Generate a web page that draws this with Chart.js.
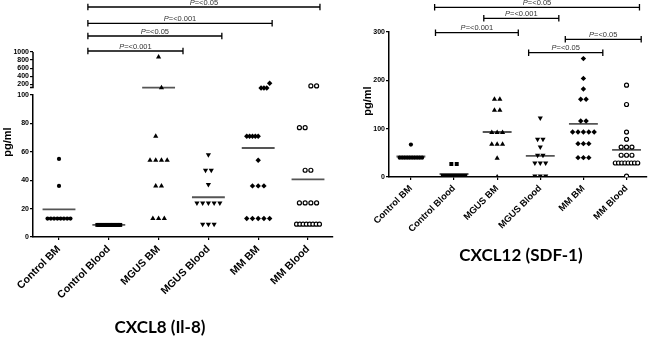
<!DOCTYPE html>
<html>
<head>
<meta charset="utf-8">
<script src="https://cdn.jsdelivr.net/npm/chart.js@4.4.0/dist/chart.umd.min.js"></script>
<style>
  html, body { margin: 0; padding: 0; background: #fff; }
  #wrap { position: relative; width: 650px; height: 338px; overflow: hidden; }
  canvas { position: absolute; top: 0; }
  #c1 { left: 0; }
  #c2 { left: 330px; }
  .panel-title { position: absolute; font: bold 17px Lato, "Liberation Sans", sans-serif; line-height: 20px;
                 color: #000; transform: translateX(-50%); white-space: nowrap; }
</style>
</head>
<body>
<div id="wrap">
  <canvas id="c1" width="340" height="338"></canvas>
  <canvas id="c2" width="320" height="338"></canvas>
  <div class="panel-title" style="left:160px; top:317px">CXCL8 (Il-8)</div>
  <div class="panel-title" style="left:521px; top:245px">CXCL12 (SDF-1)</div>
</div>
<script>
const categories = ['Control BM', 'Control Blood', 'MGUS BM', 'MGUS Blood', 'MM BM', 'MM Blood'];

// CXCL8 (Il-8), pg/ml
const il8ControlBM    = [55, 36, 13, 13, 13, 13, 13, 13, 13, 13];
const il8ControlBlood = [8.5, 8.5, 8.5, 8.5, 8.5, 8.5, 8.5, 8.5, 8.5, 8.5, 8.5, 8.5, 8.5, 8.5];
const il8MgusBM       = [875, 115, 71, 54, 54, 54, 54, 36, 36, 13, 13, 13];
const il8MgusBlood    = [58, 47, 47, 37, 24, 24, 24, 24, 24, 9, 9, 9];
const il8MmBM         = [225, 107, 107, 107, 71, 71, 71, 71, 71, 54, 36, 36, 36, 13, 13, 13, 13, 13];
const il8MmBlood      = [157, 157, 77, 77, 47, 47, 24, 24, 24, 24, 9, 9, 9, 9, 9, 9, 9, 9];
const il8Ticks    = [0, 20, 40, 60, 80, 100];
const il8TopTicks = [200, 400, 600, 800, 1000];
const il8PLabels  = ['P=<0.05', 'P=<0.001', 'P=<0.05', 'P=<0.001'];

// CXCL12 (SDF-1), pg/ml
const sdfControlBM    = [67, 40, 40, 40, 40, 40, 40, 40, 40, 40, 40];
const sdfControlBlood = [27, 27, 2, 2, 2, 2, 2, 2, 2, 2, 2, 2];
const sdfMgusBM       = [161, 161, 138, 138, 92, 92, 92, 68, 68, 68, 39, 0];
const sdfMgusBlood    = [122, 78, 78, 62, 45, 45, 29, 29, 29, 2, 2, 2];
const sdfMmBM         = [245, 204, 182, 161, 161, 116, 116, 93, 93, 93, 93, 93, 69, 69, 69, 40, 40, 40];
const sdfMmBlood      = [190, 150, 93, 78, 62, 62, 62, 45, 45, 45, 29, 29, 29, 29, 29, 29, 29, 29, 2];
const sdfTicks   = [0, 100, 200, 300];
const sdfPLabels = ['P=<0.05', 'P=<0.001', 'P=<0.001', 'P=<0.05', 'P=<0.05'];

const il8Groups = [il8ControlBM, il8ControlBlood, il8MgusBM, il8MgusBlood, il8MmBM, il8MmBlood];
const sdfGroups = [sdfControlBM, sdfControlBlood, sdfMgusBM, sdfMgusBlood, sdfMmBM, sdfMmBlood];

const FONT = '"Liberation Sans", Arial, sans-serif';

// one marker per column, GraphPad style
const markers = [
  { style: 'circle',   r: 2.1, fill: '#000' },
  { style: 'rect',     r: 2.8, fill: '#000' },
  { style: 'triangle', r: 3.0, fill: '#000' },
  { style: 'triangle', r: 3.0, fill: '#000', rot: 180 },
  { style: 'rectRot',  r: 2.7, fill: '#000' },
  { style: 'circle',   r: 2.0, fill: '#fff' }
];

const mean = a => a.reduce((s, v) => s + v, 0) / a.length;

// side-by-side offsets for points that sit on the same level
function spread(values, step, span, tol) {
  const order = values.map((v, i) => i).sort((a, b) => values[a] - values[b] || a - b);
  const out = new Array(values.length).fill(0);
  let cluster = [];
  const flush = () => {
    const k = cluster.length;
    const s = k > 1 ? Math.min(step, span / (k - 1)) : 0;
    cluster.forEach((idx, j) => { out[idx] = (j - (k - 1) / 2) * s; });
    cluster = [];
  };
  order.forEach(idx => {
    const last = cluster[cluster.length - 1];
    if (cluster.length && values[idx] - values[last] > tol(values[idx])) flush();
    cluster.push(idx);
  });
  flush();
  return out;
}

function buildDatasets(groups, opt) {
  const sets = [];
  groups.forEach((vals, i) => {
    const m = markers[i];
    const off = spread(vals, opt.step, opt.span, opt.tol);
    const pts = vals.map((v, j) => ({ x: i + off[j], y: v }));
    const axes = opt.split ? [['y', pts.filter(p => p.y <= opt.split)], ['yTop', pts.filter(p => p.y > opt.split)]]
                           : [['y', pts]];
    axes.forEach(([axis, data]) => {
      if (!data.length) return;
      sets.push({
        label: categories[i], data: data, yAxisID: axis,
        pointStyle: m.style, pointRadius: m.r, pointHoverRadius: m.r,
        pointRotation: m.rot || 0,
        backgroundColor: m.fill, borderColor: '#000',
        borderWidth: m.fill === '#fff' ? 1.2 : 0
      });
    });
    const mv = mean(vals);
    sets.push({
      label: categories[i] + ' mean',
      data: [{ x: i - opt.half, y: mv }, { x: i + opt.half, y: mv }],
      yAxisID: opt.split && mv > opt.split ? 'yTop' : 'y',
      showLine: true, pointRadius: 0, borderColor: '#555', borderWidth: 1.8
    });
  });
  return sets;
}

function fixedTicks(list) {
  return scale => { scale.ticks = list.map(v => ({ value: v })); };
}

function yAxis(list, width, extra) {
  return Object.assign({
    position: 'left',
    afterBuildTicks: fixedTicks(list),
    afterFit: s => { s.width = width; },
    ticks: { autoSkip: false, callback: v => String(v), color: '#000', padding: 1,
             font: { family: FONT, size: 7, weight: 'bold' } },
    grid: { drawOnChartArea: false, tickLength: 3, color: '#000', lineWidth: 1.2 },
    border: { color: '#000', width: 1.5 }
  }, extra);
}

function xAxis(min, max, size) {
  return {
    type: 'linear', min: min, max: max,
    afterBuildTicks: fixedTicks(categories.map((c, i) => i)),
    afterFit: s => { s.height = 62; },
    ticks: {
      callback: v => categories[v], autoSkip: false, minRotation: 45, maxRotation: 45,
      color: '#000', padding: 3, font: { family: FONT, size: size, weight: 'bold' }
    },
    grid: { drawOnChartArea: false, tickLength: 3, color: '#000', lineWidth: 1.2 },
    border: { color: '#000', width: 1.5 }
  };
}

// brackets, the break of the Il-8 axis and the pg/ml titles
const decor = {
  id: 'decor',
  afterDraw(chart, args, o) {
    const ctx = chart.ctx, xs = chart.scales.x;
    ctx.save();
    ctx.strokeStyle = '#000';
    ctx.fillStyle = '#000';
    if (o.topAxis) {
      const yt = chart.scales.yTop, x0 = chart.chartArea.left;
      const yA = yt.getPixelForValue(o.topAxis.to), yB = yt.getPixelForValue(o.topAxis.from);
      ctx.lineWidth = 1.5;
      ctx.beginPath();
      ctx.moveTo(x0, yA); ctx.lineTo(x0, yB);
      ctx.moveTo(x0 - 3, yB); ctx.lineTo(x0 + 0.75, yB);
      ctx.stroke();
    }
    o.brackets.forEach((b, i) => {
      const x1 = xs.getPixelForValue(b.from), x2 = xs.getPixelForValue(b.to), y = b.y;
      ctx.lineWidth = 1.3;
      ctx.beginPath();
      ctx.moveTo(x1, y); ctx.lineTo(x2, y);
      ctx.moveTo(x1, y - 3.2); ctx.lineTo(x1, y + 3.2);
      ctx.moveTo(x2, y - 3.2); ctx.lineTo(x2, y + 3.2);
      ctx.stroke();
      const txt = o.labels[i];
      ctx.font = 'italic 7.5px ' + FONT;
      const w1 = ctx.measureText(txt[0]).width;
      ctx.font = '7.5px ' + FONT;
      const w2 = ctx.measureText(txt.slice(1)).width;
      const sx = (x1 + x2) / 2 - (w1 + w2) / 2;
      ctx.fillStyle = '#333';
      ctx.textBaseline = 'alphabetic';
      ctx.textAlign = 'left';
      ctx.font = 'italic 7.5px ' + FONT;
      ctx.fillText(txt[0], sx, y - 2.5);
      ctx.font = '7.5px ' + FONT;
      ctx.fillText(txt.slice(1), sx + w1, y - 2.5);
    });
    ctx.fillStyle = '#000';
    ctx.font = 'bold 11px ' + FONT;
    ctx.textAlign = 'center';
    ctx.textBaseline = 'middle';
    ctx.translate(o.yTitle.x, o.yTitle.y);
    ctx.rotate(-Math.PI / 2);
    ctx.fillText('pg/ml', 0, 0);
    ctx.restore();
  }
};

new Chart(document.getElementById('c1'), {
  type: 'scatter',
  data: {
    datasets: buildDatasets(il8Groups, {
      split: 100, step: 0.115, span: 0.46, half: 0.33,
      tol: v => (v > 100 ? 150 : 2)
    })
  },
  options: {
    responsive: false, animation: false,
    layout: { padding: { top: 52, right: 7, left: 0, bottom: 39 } },
    plugins: {
      legend: { display: false }, tooltip: { enabled: false },
      decor: {
        topAxis: { from: 120, to: 1000 },
        yTitle: { x: 7.5, y: 142 },
        labels: il8PLabels,
        brackets: [
          { from: 0.58, to: 5.24, y: 7 },
          { from: 0.58, to: 4.28, y: 23.3 },
          { from: 0.58, to: 3.27, y: 36 },
          { from: 0.58, to: 2.49, y: 51 }
        ]
      }
    },
    scales: {
      x: xAxis(-0.522, 5.502, 10.5),
      y: yAxis(il8Ticks, 33, { stack: 'il8', stackWeight: 142, min: 0, max: 100 }),
      yTop: yAxis(il8TopTicks, 33, { stack: 'il8', stackWeight: 43, min: -67.5, max: 1000,
                                     border: { display: false } })
    }
  },
  plugins: [decor]
});

new Chart(document.getElementById('c2'), {
  type: 'scatter',
  data: {
    datasets: buildDatasets(sdfGroups, {
      split: 0, step: 0.125, span: 0.52, half: 0.335,
      tol: v => 2
    })
  },
  options: {
    responsive: false, animation: false,
    layout: { padding: { top: 32, right: 2, left: 0, bottom: 99 } },
    plugins: {
      legend: { display: false }, tooltip: { enabled: false },
      decor: {
        yTitle: { x: 37.5, y: 101 },
        labels: sdfPLabels,
        brackets: [
          { from: 0.55, to: 5.30, y: 7.3 },
          { from: 1.69, to: 3.43, y: 18.3 },
          { from: 0.57, to: 2.49, y: 32.7 },
          { from: 3.58, to: 5.34, y: 39.3 },
          { from: 2.73, to: 4.45, y: 52.7 }
        ]
      }
    },
    scales: {
      x: xAxis(-0.508, 5.47, 9.3),
      y: yAxis(sdfTicks, 59, { min: 0, max: 300 })
    }
  },
  plugins: [decor]
});
</script>
</body>
</html>
